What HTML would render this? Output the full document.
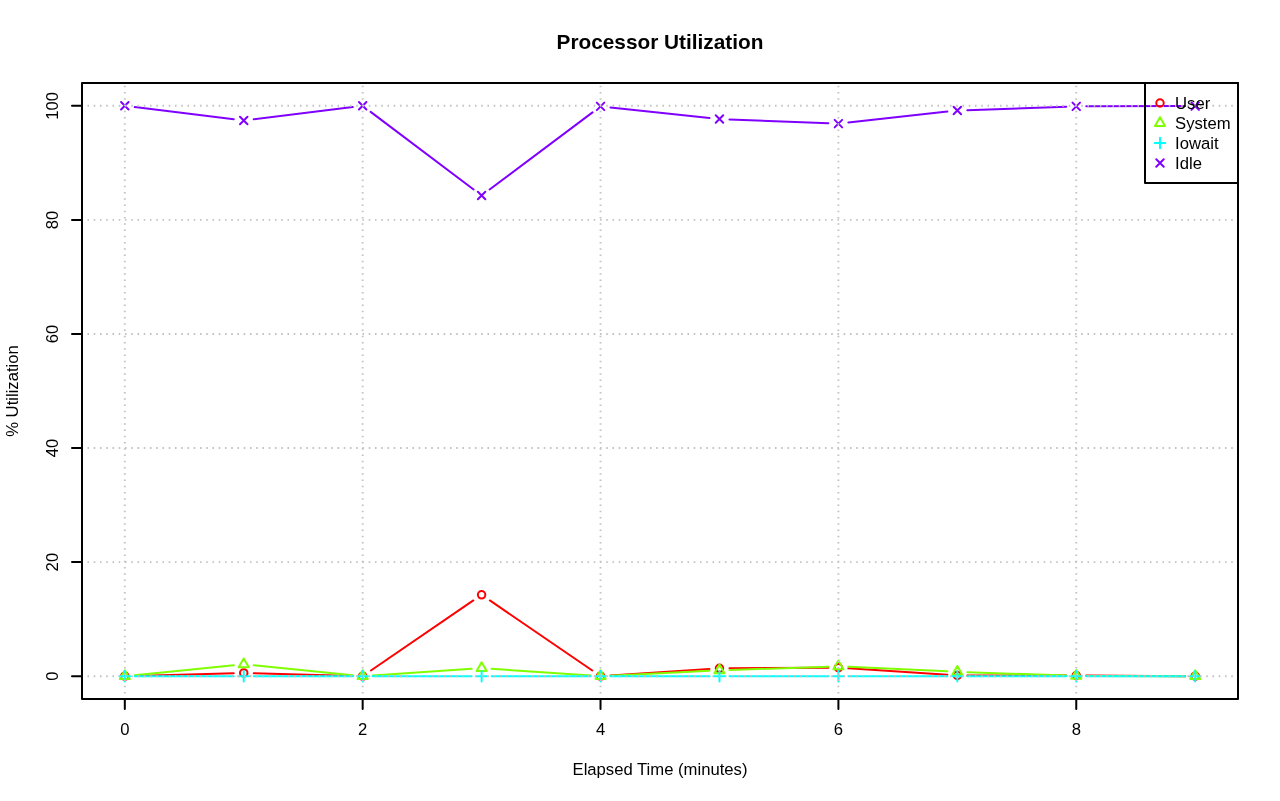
<!DOCTYPE html>
<html><head><meta charset="utf-8"><style>
html,body{margin:0;padding:0;background:#fff;width:1280px;height:801px;overflow:hidden;font-family:"Liberation Sans",sans-serif;}
svg{display:block;will-change:transform;}
</style></head><body>
<svg width="1280" height="801" viewBox="0 0 1280 801">
<rect width="1280" height="801" fill="#fff"/>
<g stroke-width="2.0" stroke-linecap="round" stroke-linejoin="round">
<path d="M134.81 675.91L233.75 673.21M253.74 673.21L352.68 675.91M370.93 670.54L473.35 600.44M489.86 600.44L592.28 670.54M610.51 675.52L709.49 668.97M729.46 668.26L828.4 667.74M848.37 668.33L947.35 674.74M967.33 675.4L1066.26 675.49M1086.25 675.56L1185.19 676.13" fill="none" stroke="#FF0000"/>
<circle cx="124.81" cy="676.19" r="3.75" fill="none" stroke="#FF0000"/>
<circle cx="243.74" cy="672.93" r="3.75" fill="none" stroke="#FF0000"/>
<circle cx="362.67" cy="676.19" r="3.75" fill="none" stroke="#FF0000"/>
<circle cx="481.6" cy="594.79" r="3.75" fill="none" stroke="#FF0000"/>
<circle cx="600.53" cy="676.19" r="3.75" fill="none" stroke="#FF0000"/>
<circle cx="719.47" cy="668.31" r="3.75" fill="none" stroke="#FF0000"/>
<circle cx="838.4" cy="667.69" r="3.75" fill="none" stroke="#FF0000"/>
<circle cx="957.33" cy="675.39" r="3.75" fill="none" stroke="#FF0000"/>
<circle cx="1076.26" cy="675.5" r="3.75" fill="none" stroke="#FF0000"/>
<circle cx="1195.19" cy="676.19" r="3.75" fill="none" stroke="#FF0000"/>
<path d="M134.77 675.19L233.79 665.31M253.7 665.31L352.72 675.19M372.65 675.51L471.63 668.82M491.58 668.82L590.56 675.51M610.52 675.69L709.48 670.8M729.46 669.98L828.4 666.71M848.38 666.83L947.34 671.34M967.32 672.14L1066.26 675.55M1086.26 675.92L1185.19 676.16" fill="none" stroke="#80FF00"/>
<path d="M124.81 670.35L129.87 679.1L119.76 679.1Z" fill="none" stroke="#80FF00"/>
<path d="M243.74 658.49L248.8 667.24L238.69 667.24Z" fill="none" stroke="#80FF00"/>
<path d="M362.67 670.35L367.73 679.1L357.62 679.1Z" fill="none" stroke="#80FF00"/>
<path d="M481.6 662.31L486.66 671.06L476.55 671.06Z" fill="none" stroke="#80FF00"/>
<path d="M600.53 670.35L605.59 679.1L595.48 679.1Z" fill="none" stroke="#80FF00"/>
<path d="M719.47 664.48L724.52 673.23L714.41 673.23Z" fill="none" stroke="#80FF00"/>
<path d="M838.4 660.54L843.45 669.29L833.34 669.29Z" fill="none" stroke="#80FF00"/>
<path d="M957.33 665.96L962.38 674.71L952.27 674.71Z" fill="none" stroke="#80FF00"/>
<path d="M1076.26 670.07L1081.31 678.82L1071.2 678.82Z" fill="none" stroke="#80FF00"/>
<path d="M1195.19 670.35L1200.24 679.1L1190.13 679.1Z" fill="none" stroke="#80FF00"/>
<path d="M134.81 676.19L233.74 676.19M253.74 676.19L352.67 676.19M372.67 676.19L471.6 676.19M491.6 676.19L590.53 676.19M610.53 676.19L709.47 676.19M729.47 676.19L828.4 676.19M848.4 676.19L947.33 676.19M967.33 676.19L1066.26 676.19M1086.26 676.19L1185.19 676.19" fill="none" stroke="#00FFFF"/>
<path d="M119.51 676.19H130.12M124.81 670.88V681.49" fill="none" stroke="#00FFFF"/>
<path d="M238.44 676.19H249.05M243.74 670.88V681.49" fill="none" stroke="#00FFFF"/>
<path d="M357.37 676.19H367.98M362.67 670.88V681.49" fill="none" stroke="#00FFFF"/>
<path d="M476.3 676.19H486.91M481.6 670.88V681.49" fill="none" stroke="#00FFFF"/>
<path d="M595.23 676.19H605.84M600.53 670.88V681.49" fill="none" stroke="#00FFFF"/>
<path d="M714.16 676.19H724.77M719.47 670.88V681.49" fill="none" stroke="#00FFFF"/>
<path d="M833.09 676.19H843.7M838.4 670.88V681.49" fill="none" stroke="#00FFFF"/>
<path d="M952.02 676.19H962.63M957.33 670.88V681.49" fill="none" stroke="#00FFFF"/>
<path d="M1070.95 676.19H1081.56M1076.26 670.88V681.49" fill="none" stroke="#00FFFF"/>
<path d="M1189.88 676.19H1200.49M1195.19 670.88V681.49" fill="none" stroke="#00FFFF"/>
<path d="M134.74 107.04L233.82 119.25M253.67 119.25L352.75 107.04M370.66 111.83L473.62 189.46M489.61 189.48L592.53 112.38M610.48 107.44L709.52 117.94M729.46 119.38L828.4 123.22M848.33 122.51L947.39 111.59M967.32 110.15L1066.26 106.73M1086.26 106.36L1185.19 106.12" fill="none" stroke="#8000FF"/>
<path d="M121.06 102.06L128.56 109.56M121.06 109.56L128.56 102.06" fill="none" stroke="#8000FF"/>
<path d="M239.99 116.72L247.49 124.22M239.99 124.22L247.49 116.72" fill="none" stroke="#8000FF"/>
<path d="M358.92 102.06L366.42 109.56M358.92 109.56L366.42 102.06" fill="none" stroke="#8000FF"/>
<path d="M477.85 191.73L485.35 199.23M477.85 199.23L485.35 191.73" fill="none" stroke="#8000FF"/>
<path d="M596.78 102.64L604.28 110.14M596.78 110.14L604.28 102.64" fill="none" stroke="#8000FF"/>
<path d="M715.72 115.24L723.22 122.74M715.72 122.74L723.22 115.24" fill="none" stroke="#8000FF"/>
<path d="M834.65 119.86L842.15 127.36M834.65 127.36L842.15 119.86" fill="none" stroke="#8000FF"/>
<path d="M953.58 106.74L961.08 114.24M953.58 114.24L961.08 106.74" fill="none" stroke="#8000FF"/>
<path d="M1072.51 102.64L1080.01 110.14M1072.51 110.14L1080.01 102.64" fill="none" stroke="#8000FF"/>
<path d="M1191.44 102.35L1198.94 109.85M1191.44 109.85L1198.94 102.35" fill="none" stroke="#8000FF"/>
</g>
<path d="M124.81 699V83M362.67 699V83M600.53 699V83M838.4 699V83M1076.26 699V83M82 676.19H1238M82 562.11H1238M82 448.04H1238M82 333.96H1238M82 219.89H1238M82 105.81H1238" fill="none" stroke="#C2C2C2" stroke-width="1.9" stroke-linecap="butt" stroke-dasharray="1.5625 4.6875" stroke-dashoffset="0.78"/>
<rect x="82.0" y="83.0" width="1156.0" height="616.0" fill="none" stroke="#000" stroke-width="2.0" stroke-linejoin="round"/>
<path d="M124.81 699V709M362.67 699V709M600.53 699V709M838.4 699V709M1076.26 699V709M82 676.19H72M82 562.11H72M82 448.04H72M82 333.96H72M82 219.89H72M82 105.81H72" fill="none" stroke="#000" stroke-width="2.0" stroke-linecap="round"/>
<g font-family="Liberation Sans" font-size="16.67" fill="#000"><text x="124.81" y="734.6" text-anchor="middle">0</text><text x="362.67" y="734.6" text-anchor="middle">2</text><text x="600.53" y="734.6" text-anchor="middle">4</text><text x="838.4" y="734.6" text-anchor="middle">6</text><text x="1076.26" y="734.6" text-anchor="middle">8</text><text transform="translate(57.9 676.19) rotate(-90)" text-anchor="middle">0</text><text transform="translate(57.9 562.11) rotate(-90)" text-anchor="middle">20</text><text transform="translate(57.9 448.04) rotate(-90)" text-anchor="middle">40</text><text transform="translate(57.9 333.96) rotate(-90)" text-anchor="middle">60</text><text transform="translate(57.9 219.89) rotate(-90)" text-anchor="middle">80</text><text transform="translate(57.9 105.81) rotate(-90)" text-anchor="middle">100</text><text x="660" y="775" text-anchor="middle">Elapsed Time (minutes)</text><text transform="translate(18.3 391) rotate(-90)" text-anchor="middle">% Utilization</text></g>
<text x="660" y="49.1" text-anchor="middle" font-family="Liberation Sans" font-weight="bold" font-size="20.8" fill="#000">Processor Utilization</text>
<rect x="1145.0" y="83.0" width="93.0" height="100.0" fill="none" stroke="#000" stroke-width="2.0" stroke-linejoin="round"/>
<g stroke-width="2.0" stroke-linecap="round" stroke-linejoin="round">
<circle cx="1160" cy="103" r="3.75" fill="none" stroke="#FF0000"/>
<path d="M1160 117.17L1165.05 125.92L1154.95 125.92Z" fill="none" stroke="#80FF00"/>
<path d="M1154.7 143H1165.3M1160 137.7V148.3" fill="none" stroke="#00FFFF"/>
<path d="M1156.25 159.25L1163.75 166.75M1156.25 166.75L1163.75 159.25" fill="none" stroke="#8000FF"/>
</g>
<g font-family="Liberation Sans" font-size="16.67" fill="#000">
<text x="1175.1" y="109">User</text>
<text x="1175.1" y="129">System</text>
<text x="1175.1" y="149">Iowait</text>
<text x="1175.1" y="169">Idle</text>
</g>
</svg>
</body></html>
